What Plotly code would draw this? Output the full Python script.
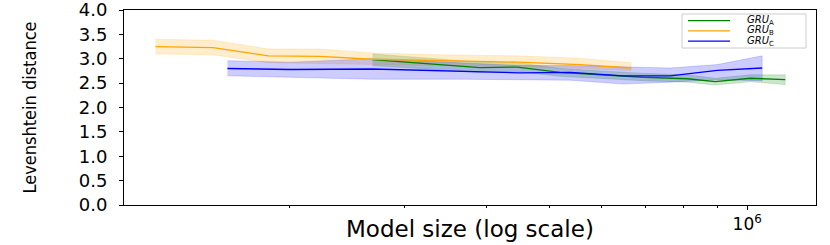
import plotly.graph_objects as go

# ---- data ----
sizes_A = [2.68e5, 3.91e5, 4.46e5, 5.18e5, 6.94e5, 8.10e5, 8.94e5, 1.011e6, 1.143e6]
mean_A = [2.98, 2.82, 2.83, 2.72, 2.62, 2.59, 2.53, 2.60, 2.57]
lo_A = [2.86, 2.72, 2.74, 2.64, 2.55, 2.52, 2.46, 2.53, 2.47]
hi_A = [3.10, 2.93, 2.92, 2.80, 2.70, 2.67, 2.60, 2.67, 2.67]

sizes_B = [1.25e5, 1.53e5, 1.86e5, 2.23e5, 2.68e5, 3.40e5, 4.46e5, 5.56e5, 6.65e5]
mean_B = [3.25, 3.23, 3.06, 3.05, 2.99, 2.96, 2.93, 2.88, 2.81]
lo_B = [3.10, 3.08, 2.92, 2.90, 2.88, 2.86, 2.84, 2.80, 2.76]
hi_B = [3.40, 3.38, 3.20, 3.20, 3.12, 3.08, 3.06, 3.01, 2.92]

sizes_C = [1.61e5, 2.01e5, 2.68e5, 3.65e5, 4.50e5, 5.37e5, 6.47e5, 7.63e5, 9.00e5, 1.054e6]
mean_C = [2.80, 2.78, 2.79, 2.75, 2.71, 2.72, 2.65, 2.65, 2.76, 2.81]
lo_C = [2.65, 2.62, 2.58, 2.58, 2.57, 2.56, 2.48, 2.52, 2.57, 2.55]
hi_C = [2.96, 2.93, 3.00, 2.92, 2.86, 2.86, 2.84, 2.81, 2.88, 3.06]

series_names = ["<i>GRU</i><sub>A</sub>", "<i>GRU</i><sub>B</sub>", "<i>GRU</i><sub>C</sub>"]
series_colors = ["#008000", "#FFA500", "#0000FF"]
series_fills = ["rgba(0,128,0,0.2)", "rgba(255,165,0,0.2)", "rgba(0,0,255,0.2)"]

x_minor_ticks = [2e5, 3e5, 4e5, 5e5, 6e5, 7e5, 8e5, 9e5]
x_major_ticks = [1e6]
x_major_labels = ["10<sup>6</sup>"]
y_ticks = [0, 0.5, 1.0, 1.5, 2.0, 2.5, 3.0, 3.5, 4.0]

# plot-area geometry (pixels)
W, H = 830, 245
L, R, T, B = 124, 14, 10, 40
PW, PH = W - L - R, H - T - B


def px(xpix):
    return (xpix - L) / PW


def py(ypix):
    return (H - B - ypix) / PH


fig = go.Figure()

all_data = [
    (sizes_A, mean_A, lo_A, hi_A),
    (sizes_B, mean_B, lo_B, hi_B),
    (sizes_C, mean_C, lo_C, hi_C),
]

# bands first
for (xs, m, lo, hi), fc in zip(all_data, series_fills):
    fig.add_trace(go.Scatter(
        x=list(xs) + list(xs)[::-1],
        y=list(hi) + list(lo)[::-1],
        fill="toself", fillcolor=fc, mode="lines",
        line=dict(width=0.8, color=fc),
        showlegend=False, hoverinfo="skip",
    ))

for (xs, m, lo, hi), name, col in zip(all_data, series_names, series_colors):
    fig.add_trace(go.Scatter(
        x=xs, y=m, mode="lines", name=name,
        line=dict(color=col, width=1.3), showlegend=False,
    ))

# compact legend (drawn as shapes + text)
shapes = [dict(
    type="rect", xref="paper", yref="paper",
    x0=px(682), x1=px(806), y0=py(48), y1=py(14),
    line=dict(color="#cccccc", width=1), fillcolor="rgba(255,255,255,0.8)", layer="above",
)]
annotations = []
legend_rows = [20.7, 30.9, 41.1]
for name, col, yr in zip(series_names, series_colors, legend_rows):
    shapes.append(dict(
        type="line", xref="paper", yref="paper",
        x0=px(688), x1=px(730), y0=py(yr), y1=py(yr),
        line=dict(color=col, width=1.3), layer="above",
    ))
    annotations.append(dict(
        text=name, xref="paper", yref="paper",
        x=px(745), y=py(yr), xanchor="left", yanchor="middle",
        showarrow=False, font=dict(family="DejaVu Sans", size=10, color="black"),
    ))

annotations.append(dict(
    text="Levenshtein distance", xref="paper", yref="paper",
    x=px(29), y=py(107.5), xanchor="center", yanchor="middle",
    textangle=-90, showarrow=False,
    font=dict(family="DejaVu Sans Condensed, Liberation Sans Narrow, sans-serif", size=18, color="black"),
))
annotations.append(dict(
    text="Model size (log scale)", xref="paper", yref="paper",
    x=0.5, y=py(229), xanchor="center", yanchor="middle",
    showarrow=False,
    font=dict(family="DejaVu Sans", size=23, color="black"),
))

fig.update_layout(
    width=W, height=H,
    margin=dict(l=L, r=R, t=T, b=B, autoexpand=False),
    paper_bgcolor="white", plot_bgcolor="white",
    font=dict(family="DejaVu Sans", color="black"),
    showlegend=False,
    xaxis=dict(
        type="log", range=[5.049, 6.105], automargin=False,
        showgrid=False, zeroline=False,
        showline=True, linecolor="black", linewidth=1, mirror=True,
        tickmode="array", tickvals=x_major_ticks, ticktext=x_major_labels,
        ticks="outside", ticklen=4, tickcolor="black",
        tickfont=dict(family="DejaVu Sans", size=17),
        ticklabeloverflow="allow",
        minor=dict(tickvals=x_minor_ticks, ticks="outside", ticklen=2, tickcolor="black", showgrid=False),
    ),
    yaxis=dict(
        range=[0, 4], showgrid=False, zeroline=False, automargin=False,
        showline=True, linecolor="black", linewidth=1, mirror=True,
        tickmode="array", tickvals=y_ticks, tickformat=".1f",
        ticks="outside", ticklen=4, tickcolor="black",
        tickfont=dict(family="DejaVu Sans", size=18),
        ticklabeloverflow="allow", ticklabelstandoff=8,
    ),
    shapes=shapes,
    annotations=annotations,
)

fig.write_html(
    "out.html",
    config={"displayModeBar": False},
    post_script="document.body.style.margin='0';document.body.style.padding='0';document.body.style.overflow='hidden';",
)
